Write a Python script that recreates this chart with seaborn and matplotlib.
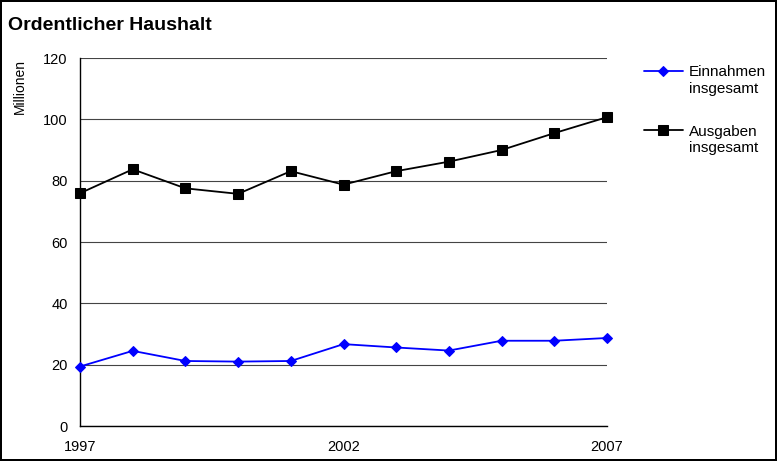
import numpy as np
import pandas as pd
import seaborn as sns
import matplotlib.pyplot as plt

years = list(range(1997, 2008))
einnahmen = [19.4, 24.5, 21.2, 21.0, 21.2, 26.7, 25.6, 24.6, 27.8, 27.8, 28.7]
ausgaben = [75.9, 83.7, 77.5, 75.7, 83.1, 78.7, 83.1, 86.2, 90.0, 95.5, 100.7]
labels = ["Einnahmen", "Ausgaben"]
label_suffix = "insgesamt"
yticks = [0, 20, 40, 60, 80, 100, 120]
xticklabels = {1997: "1997", 2002: "2002", 2007: "2007"}

sns.set_theme(style="white")
plt.rcParams["font.family"] = ["Liberation Sans", "DejaVu Sans"]
plt.rcParams["text.color"] = "black"

fig = plt.figure(figsize=(7.77, 4.61), dpi=100)
fig.patch.set_edgecolor("black")
fig.patch.set_linewidth(1.5)
ax = fig.add_axes([80 / 777, 1 - 426 / 461, (607 - 80) / 777, (426 - 58) / 461])

df = pd.DataFrame({"Jahr": years, "Einnahmen": einnahmen, "Ausgaben": ausgaben})

sns.lineplot(data=df, x="Jahr", y="Einnahmen", ax=ax, color="#0000ff", marker="D",
             markersize=6, markeredgecolor="#0000ff", linewidth=1.3, label=labels[0],
             clip_on=False, zorder=3)
sns.lineplot(data=df, x="Jahr", y="Ausgaben", ax=ax, color="black", marker="s",
             markersize=8, markeredgecolor="black", linewidth=1.3, label=labels[1],
             clip_on=False, zorder=3)

ax.set_xlim(1997, 2007)
ax.set_ylim(0, 120)
ax.set_yticks(yticks)
ax.set_xticks(years)
ax.set_xticklabels([xticklabels.get(y, "") for y in years])
ax.yaxis.grid(True, color="#444444", linewidth=0.8)
ax.set_axisbelow(True)
for s in ["top", "right"]:
    ax.spines[s].set_visible(False)
for s in ["left", "bottom"]:
    ax.spines[s].set_color("black")
    ax.spines[s].set_linewidth(1)
ax.tick_params(axis="both", which="both", direction="out", length=4, width=0.8,
               color="black", labelsize=10.5, labelcolor="black")
ax.tick_params(axis="y", pad=5)
ax.tick_params(axis="x", pad=6)
ax.set_xlabel("")
ax.set_ylabel("")
fig.text(20 / 777, 1 - 87 / 461, "Millionen", rotation=90, ha="center", va="center", fontsize=10)
fig.text(8 / 777, 1 - 26 / 461, "Ordentlicher Haushalt", fontsize=14, fontweight="bold",
         ha="left", va="center")

# legend: handle beside first line, second line written below
h, l = ax.get_legend_handles_labels()
ax.get_legend().remove()
for hd in h:
    hd.set_markersize(hd.get_markersize() * 0.85)
fig.legend(h, l, loc="upper left", bbox_to_anchor=(644 / 777, 1 - 65 / 461), frameon=False,
           fontsize=11, handlelength=2.55, labelspacing=3.0, handletextpad=0.4,
           borderaxespad=0, borderpad=0)
for yy in [89, 148]:
    fig.text(689 / 777, 1 - yy / 461, label_suffix, fontsize=11, ha="left", va="center")

fig.savefig("out.png", dpi=100)
